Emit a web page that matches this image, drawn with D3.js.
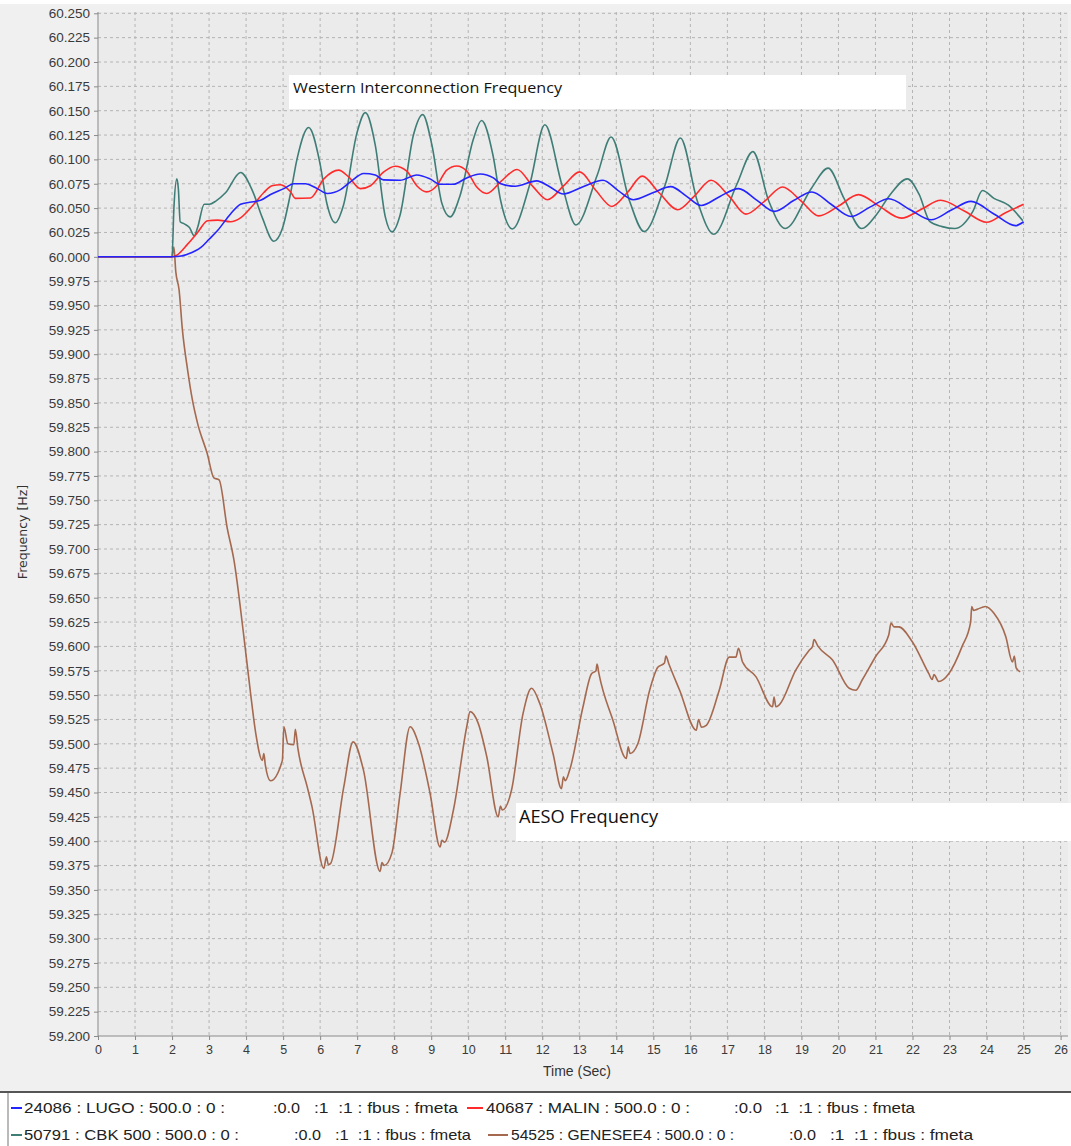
<!DOCTYPE html>
<html><head><meta charset="utf-8">
<script src="https://cdn.jsdelivr.net/npm/d3@7"></script>
<style>html,body{margin:0;padding:0;background:#fff;} svg{display:block;}</style>
</head><body><svg id="c" width="1071" height="1146"></svg>
<script>
const xTicks = [0,1,2,3,4,5,6,7,8,9,10,11,12,13,14,15,16,17,18,19,20,21,22,23,24,25,26];
const yTicks = [59.200,59.225,59.250,59.275,59.300,59.325,59.350,59.375,59.400,59.425,59.450,59.475,59.500,59.525,59.550,59.575,59.600,59.625,59.650,59.675,59.700,59.725,59.750,59.775,59.800,59.825,59.850,59.875,59.900,59.925,59.950,59.975,60.000,60.025,60.050,60.075,60.100,60.125,60.150,60.175,60.200,60.225,60.250];

const legendA = ["24086 : LUGO : 500.0 : 0 :", "40687 : MALIN : 500.0 : 0 :", "50791 : CBK 500 : 500.0 : 0 :", "54525 : GENESEE4 : 500.0 : 0 :"];
const legendB = [":0.0", ":0.0", ":0.0", ":0.0"];
const legendC = [":1  :1 : fbus : fmeta", ":1  :1 : fbus : fmeta", ":1  :1 : fbus : fmeta", ":1  :1 : fbus : fmeta"];
const annotations = ["Western Interconnection Frequency", "AESO Frequency"];

// [time (s), frequency (Hz)]
const lugo = [[0,60.0],[2.0,60.0],[2.2,60.0005],[2.42,60.0027],[2.78,60.0096],[3.0,60.018],[3.23,60.027],[3.58,60.044],[3.85,60.054],[4.1,60.056],[4.39,60.058],[4.66,60.064],[5.02,60.070],[5.29,60.075],[5.6,60.075],[5.92,60.070],[6.19,60.065],[6.55,60.069],[6.82,60.077],[7.18,60.0855],[7.49,60.084],[7.71,60.079],[8.16,60.0786],[8.61,60.084],[8.97,60.080],[9.24,60.0745],[9.6,60.0745],[9.96,60.081],[10.32,60.085],[10.68,60.081],[10.88,60.075],[11.27,60.0724],[11.85,60.078],[12.2,60.072],[12.57,60.0645],[13.1,60.072],[13.64,60.0786],[14.05,60.068],[14.46,60.0586],[15.0,60.066],[15.47,60.072],[15.9,60.062],[16.29,60.0527],[16.8,60.062],[17.3,60.070],[17.8,60.058],[18.27,60.0466],[18.8,60.058],[19.28,60.0666],[19.8,60.054],[20.34,60.0414],[20.85,60.051],[21.36,60.0596],[21.95,60.048],[22.5,60.038],[23.05,60.048],[23.58,60.0569],[24.2,60.044],[24.78,60.032],[25.0,60.036]];

const malin = [[0,60.0],[2.0,60.0],[2.1,60.001],[2.42,60.013],[2.69,60.025],[2.96,60.037],[3.23,60.0377],[3.58,60.036],[3.85,60.040],[4.21,60.054],[4.48,60.066],[4.7,60.073],[4.93,60.074],[5.2,60.0667],[5.33,60.060],[5.74,60.0604],[6.1,60.080],[6.5,60.089],[6.77,60.082],[7.09,60.070],[7.36,60.073],[7.71,60.087],[8.03,60.093],[8.34,60.088],[8.61,60.073],[8.88,60.0667],[9.15,60.073],[9.42,60.089],[9.69,60.0933],[9.96,60.088],[10.23,60.0717],[10.5,60.065],[10.9,60.078],[11.32,60.0897],[11.75,60.072],[12.14,60.0586],[12.58,60.073],[13.01,60.0872],[13.45,60.068],[13.88,60.0517],[14.3,60.066],[14.70,60.0828],[15.15,60.066],[15.66,60.0483],[16.1,60.062],[16.56,60.0786],[17.05,60.062],[17.5,60.0438],[18.0,60.057],[18.49,60.0717],[19.0,60.057],[19.47,60.042],[20.0,60.052],[20.54,60.0638],[21.1,60.052],[21.7,60.0397],[22.25,60.049],[22.76,60.058],[23.4,60.047],[24.0,60.0355],[24.5,60.045],[25.0,60.054]];

const cbk = [[0,60.0],[2.0,60.0],[2.05,60.05],[2.13,60.080],[2.17,60.07],[2.22,60.036],[2.34,60.0336],[2.47,60.030],[2.6,60.0216],[2.69,60.030],[2.87,60.054],[3.01,60.054],[3.19,60.0575],[3.45,60.066],[3.85,60.0866],[4.17,60.068],[4.44,60.040],[4.75,60.016],[4.98,60.029],[5.2,60.065],[5.38,60.101],[5.69,60.1327],[5.99,60.097],[6.18,60.055],[6.41,60.035],[6.63,60.053],[7.0,60.128],[7.22,60.148],[7.49,60.1145],[7.76,60.041],[7.94,60.0256],[8.16,60.043],[8.52,60.125],[8.77,60.146],[9.02,60.1145],[9.29,60.0547],[9.51,60.041],[9.78,60.063],[10.14,60.121],[10.36,60.140],[10.67,60.104],[10.88,60.057],[11.19,60.0286],[11.66,60.074],[12.07,60.1355],[12.53,60.074],[12.91,60.0327],[13.49,60.0845],[13.86,60.123],[14.36,60.057],[14.75,60.0259],[15.32,60.074],[15.73,60.122],[16.19,60.057],[16.63,60.0231],[17.25,60.074],[17.69,60.108],[18.12,60.057],[18.56,60.029],[19.28,60.071],[19.72,60.091],[20.15,60.060],[20.63,60.029],[21.02,60.043],[21.4,60.064],[21.86,60.080],[22.18,60.064],[22.47,60.036],[22.8,60.031],[23.14,60.029],[23.63,60.0466],[23.89,60.068],[24.2,60.060],[24.59,60.053],[24.98,60.037]];

const genesee = [[0,60.0],[2.0,60.0],[2.05,60.010],[2.1,59.985],[2.19,59.966],[2.28,59.925],[2.42,59.884],[2.55,59.853],[2.69,59.829],[2.95,59.798],[3.13,59.773],[3.27,59.771],[3.49,59.7215],[3.67,59.689],[3.94,59.610],[4.12,59.552],[4.26,59.511],[4.44,59.483],[4.48,59.490],[4.52,59.478],[4.66,59.462],[4.98,59.483],[5.02,59.5175],[5.13,59.500],[5.29,59.499],[5.33,59.515],[5.4,59.495],[5.65,59.456],[5.78,59.4355],[6.1,59.372],[6.17,59.384],[6.22,59.376],[6.28,59.377],[6.64,59.456],[6.89,59.502],[7.17,59.473],[7.62,59.369],[7.67,59.378],[7.73,59.375],[7.94,59.388],[8.16,59.449],[8.43,59.5175],[8.66,59.500],[8.97,59.449],[9.24,59.394],[9.29,59.401],[9.36,59.399],[9.6,59.432],[9.96,59.5175],[10.05,59.533],[10.27,59.521],[10.5,59.487],[10.81,59.425],[10.87,59.436],[10.92,59.432],[11.17,59.4526],[11.48,59.531],[11.71,59.557],[11.93,59.5416],[12.29,59.490],[12.52,59.454],[12.57,59.466],[12.62,59.462],[12.74,59.473],[13.1,59.538],[13.33,59.572],[13.45,59.575],[13.48,59.582],[13.53,59.572],[13.91,59.524],[14.27,59.485],[14.32,59.497],[14.37,59.490],[14.58,59.500],[14.9,59.555],[15.12,59.5785],[15.3,59.583],[15.34,59.590],[15.42,59.582],[15.71,59.555],[16.16,59.514],[16.22,59.525],[16.3,59.517],[16.43,59.519],[16.78,59.555],[17.05,59.589],[17.23,59.589],[17.3,59.598],[17.41,59.584],[17.77,59.569],[18.22,59.538],[18.26,59.548],[18.31,59.538],[18.4,59.540],[18.85,59.576],[19.21,59.596],[19.3,59.600],[19.34,59.607],[19.45,59.600],[19.84,59.586],[20.29,59.557],[20.47,59.555],[20.64,59.5655],[21.0,59.5894],[21.36,59.612],[21.42,59.624],[21.5,59.620],[21.63,59.620],[21.99,59.605],[22.44,59.572],[22.53,59.566],[22.58,59.571],[22.71,59.564],[22.98,59.572],[23.34,59.600],[23.57,59.625],[23.6,59.641],[23.65,59.637],[23.74,59.638],[23.97,59.641],[24.2,59.634],[24.52,59.610],[24.7,59.584],[24.75,59.590],[24.8,59.578],[24.91,59.574]];

const series = [lugo, malin, cbk, genesee];
const colors = ["#2424ff", "#ff2b2b", "#3f7d77", "#a5694f"];

const svg = d3.select('#c');
const W = 1071;
svg.append('rect').attr('x',0).attr('y',4).attr('width',W).attr('height',1088).attr('fill','#f0f0f0');

const x = d3.scaleLinear().domain([0, 26.2]).range([98, 1068]);
const y = d3.scaleLinear().domain([59.2, 60.25]).range([1036, 13.3]);

svg.append('rect').attr('x',98).attr('y',12).attr('width',970).attr('height',1024).attr('fill','#ebebeb');

// grid
const g = svg.append('g');
g.selectAll('line.gy').data(yTicks.filter(v => v > 59.2)).enter().append('line')
  .attr('x1',98).attr('x2',1068).attr('y1',d=>y(d)).attr('y2',d=>y(d))
  .attr('stroke','#b4b4b4').attr('stroke-width',1).attr('stroke-dasharray','3,3');
g.selectAll('line.gx').data(xTicks.filter(v => v > 0)).enter().append('line')
  .attr('x1',d=>x(d)).attr('x2',d=>x(d)).attr('y1',12).attr('y2',1036)
  .attr('stroke','#b4b4b4').attr('stroke-width',1).attr('stroke-dasharray','3,3');

// axes
const yAxis = d3.axisLeft(y).tickValues(yTicks).tickFormat(d3.format('.3f')).tickSize(4).tickSizeOuter(0);
const xAxis = d3.axisBottom(x).tickValues(xTicks).tickFormat(d3.format('d')).tickSize(4).tickSizeOuter(0);
const ya = svg.append('g').attr('transform','translate(98,0)').call(yAxis);
const xa = svg.append('g').attr('transform','translate(0,1036)').call(xAxis);
[ya, xa].forEach(a => {
  a.select('.domain').attr('stroke','#8a8a8a');
  a.selectAll('.tick line').attr('stroke','#8a8a8a');
  a.selectAll('.tick text').attr('fill','#3a3a3a').attr('font-family','"Liberation Sans", Arial, sans-serif');
});
ya.select('.domain').attr('d','M0,12V1036');
xa.select('.domain').attr('d','M98,0H1068');
ya.selectAll('.tick text').attr('font-size',13.5).attr('x',-8);
xa.selectAll('.tick text').attr('font-size',12.5).attr('y',9);

// axis titles
svg.append('text').attr('x',577).attr('y',1076).attr('text-anchor','middle')
  .attr('font-family','"Liberation Sans", Arial, sans-serif').attr('font-size',14).attr('fill','#333')
  .text('Time (Sec)');
svg.append('text').attr('transform','translate(27,532) rotate(-90)').attr('text-anchor','middle')
  .attr('font-family','"DejaVu Sans", sans-serif').attr('font-size',12.5).attr('fill','#333')
  .text('Frequency [Hz]');

// lines
const line = d3.line().x(d=>x(d[0])).y(d=>y(d[1])).curve(d3.curveMonotoneX);
const plot = svg.append('g');
[3,2,1,0].forEach(i => {
  plot.append('path').datum(series[i]).attr('d', line).attr('fill','none')
    .attr('stroke', colors[i]).attr('stroke-width', 1.6).attr('stroke-linejoin','round');
});

// annotations
svg.append('rect').attr('x',289).attr('y',75).attr('width',617).attr('height',34).attr('fill','#fff');
svg.append('text').attr('x',293).attr('y',93).attr('font-family','"Open Sans", sans-serif').attr('font-size',15)
  .attr('fill','#111').attr('textLength',269).attr('lengthAdjust','spacingAndGlyphs').text(annotations[0]);
svg.append('rect').attr('x',516).attr('y',803).attr('width',555).attr('height',38).attr('fill','#fff');
svg.append('text').attr('x',519).attr('y',823).attr('font-family','"Open Sans", sans-serif').attr('font-size',17.5)
  .attr('fill','#111').attr('textLength',139).attr('lengthAdjust','spacingAndGlyphs').text(annotations[1]);

// legend
svg.append('rect').attr('x',8).attr('y',1092).attr('width',1070).attr('height',60).attr('fill','#fff')
  .attr('stroke','#777').attr('stroke-width',1);
svg.append('line').attr('x1',0).attr('x2',W).attr('y1',1092).attr('y2',1092).attr('stroke','#555').attr('stroke-width',2);
const legPos = [
  {sw:[11,22], a:[24,225], b:[273,300], c:[314,458], y:1108},
  {sw:[467,483], a:[486,690], b:[734,762], c:[775,915], y:1108},
  {sw:[11,22], a:[24,239], b:[294,321], c:[335,471], y:1135},
  {sw:[488,508], a:[511,734], b:[789,816], c:[830,973], y:1135}
];
const lg = svg.append('g').attr('font-family','"Liberation Sans Narrow", "Liberation Sans", Arial, sans-serif').attr('font-size',15).attr('fill','#222');
legPos.forEach((p,i) => {
  lg.append('line').attr('x1',p.sw[0]).attr('x2',p.sw[1]).attr('y1',p.y).attr('y2',p.y)
    .attr('stroke',colors[i]).attr('stroke-width',2);
  [[legendA[i],p.a],[legendB[i],p.b],[legendC[i],p.c]].forEach(([t,r]) => {
    lg.append('text').attr('x',r[0]).attr('y',p.y+5).attr('xml:space','preserve')
      .style('white-space','pre').attr('textLength',r[1]-r[0]).attr('lengthAdjust','spacingAndGlyphs').text(t);
  });
});
</script>
</body></html>
